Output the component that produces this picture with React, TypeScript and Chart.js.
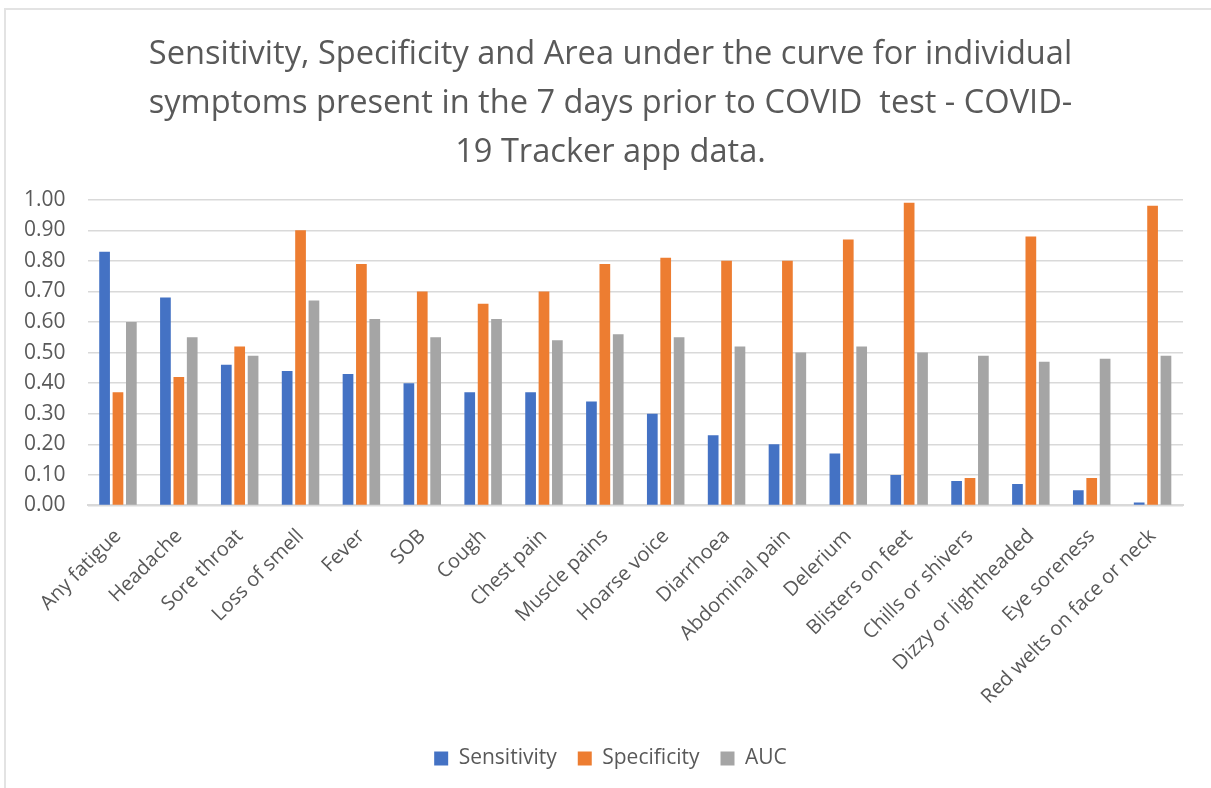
import React, { useEffect, useRef } from "react";
import { Chart, registerables } from "chart.js";

Chart.register(...registerables);

const categories = [
  "Any fatigue",
  "Headache",
  "Sore throat",
  "Loss of smell",
  "Fever",
  "SOB",
  "Cough",
  "Chest pain",
  "Muscle pains",
  "Hoarse voice",
  "Diarrhoea",
  "Abdominal pain",
  "Delerium",
  "Blisters on feet",
  "Chills or shivers",
  "Dizzy or lightheaded",
  "Eye soreness",
  "Red welts on face or neck",
];

const sensitivity = [0.83, 0.68, 0.46, 0.44, 0.43, 0.4, 0.37, 0.37, 0.34, 0.3, 0.23, 0.2, 0.17, 0.1, 0.08, 0.07, 0.05, 0.01];
const specificity = [0.37, 0.42, 0.52, 0.9, 0.79, 0.7, 0.66, 0.7, 0.79, 0.81, 0.8, 0.8, 0.87, 0.99, 0.09, 0.88, 0.09, 0.98];
const auc = [0.6, 0.55, 0.49, 0.67, 0.61, 0.55, 0.61, 0.54, 0.56, 0.55, 0.52, 0.5, 0.52, 0.5, 0.49, 0.47, 0.48, 0.49];

const titleLines = [
  "Sensitivity, Specificity and Area under the curve for individual",
  "symptoms present in the 7 days prior to COVID  test - COVID-",
  "19 Tracker app data.",
];

const FONT = "'Open Sans', sans-serif";
const TEXT = "#595959";

export default function App() {
  const ref = useRef<HTMLCanvasElement>(null);

  useEffect(() => {
    if (!ref.current) return;
    const chart = new Chart(ref.current, {
      type: "bar",
      data: {
        labels: categories,
        datasets: [
          { label: "Sensitivity", data: sensitivity, backgroundColor: "#4472C4" },
          { label: "Specificity", data: specificity, backgroundColor: "#ED7D31" },
          { label: "AUC", data: auc, backgroundColor: "#A5A5A5" },
        ],
      },
      options: {
        animation: false,
        responsive: false,
        maintainAspectRatio: false,
        datasets: { bar: { categoryPercentage: 0.66, barPercentage: 0.8 } },
        layout: { padding: { left: 20, right: 10, top: 0, bottom: 9 } },
        plugins: {
          title: {
            display: true,
            text: titleLines,
            color: TEXT,
            font: { family: FONT, size: 32.6, weight: "normal", lineHeight: 1.5 },
            padding: { top: 30, bottom: 23 },
          },
          legend: {
            position: "bottom",
            labels: {
              color: TEXT,
              font: { family: FONT, size: 21 },
              boxWidth: 14,
              boxHeight: 14,
              padding: 21,
            },
          },
          tooltip: { enabled: false },
        },
        scales: {
          x: {
            grid: { display: false },
            border: { display: true, color: "#d9d9d9", width: 2 },
            ticks: {
              color: TEXT,
              font: { family: FONT, size: 20 },
              maxRotation: 45,
              minRotation: 45,
              autoSkip: false,
              padding: 11,
            },
            afterFit: (s: any) => {
              s.height += 7;
            },
          },
          y: {
            min: 0,
            max: 1,
            border: { display: false },
            grid: { color: "#d9d9d9", lineWidth: 1.5, drawTicks: false },
            ticks: {
              stepSize: 0.1,
              color: TEXT,
              font: { family: FONT, size: 21 },
              padding: 22,
              callback: (v: any) => Number(v).toFixed(2),
            },
            afterFit: (s: any) => {
              s.width -= 18;
            },
          },
          yRight: {
            position: "right",
            display: true,
            border: { display: false },
            grid: { display: false },
            ticks: { display: false },
            afterFit: (s: any) => {
              s.width = 18;
            },
          },
        },
      },
    });
    return () => chart.destroy();
  }, []);

  return (
    <div style={{ position: "fixed", left: 0, top: 0, width: 1211, height: 788, background: "#fff" }}>
      <div
        style={{
          position: "absolute",
          left: 4,
          top: 8,
          width: 1230,
          height: 820,
          borderTop: "2px solid #e3e3e3",
          borderLeft: "2px solid #e3e3e3",
          boxSizing: "border-box",
        }}
      />
      <canvas ref={ref} width={1211} height={788} style={{ position: "absolute", left: 0, top: 0 }} />
    </div>
  );
}
